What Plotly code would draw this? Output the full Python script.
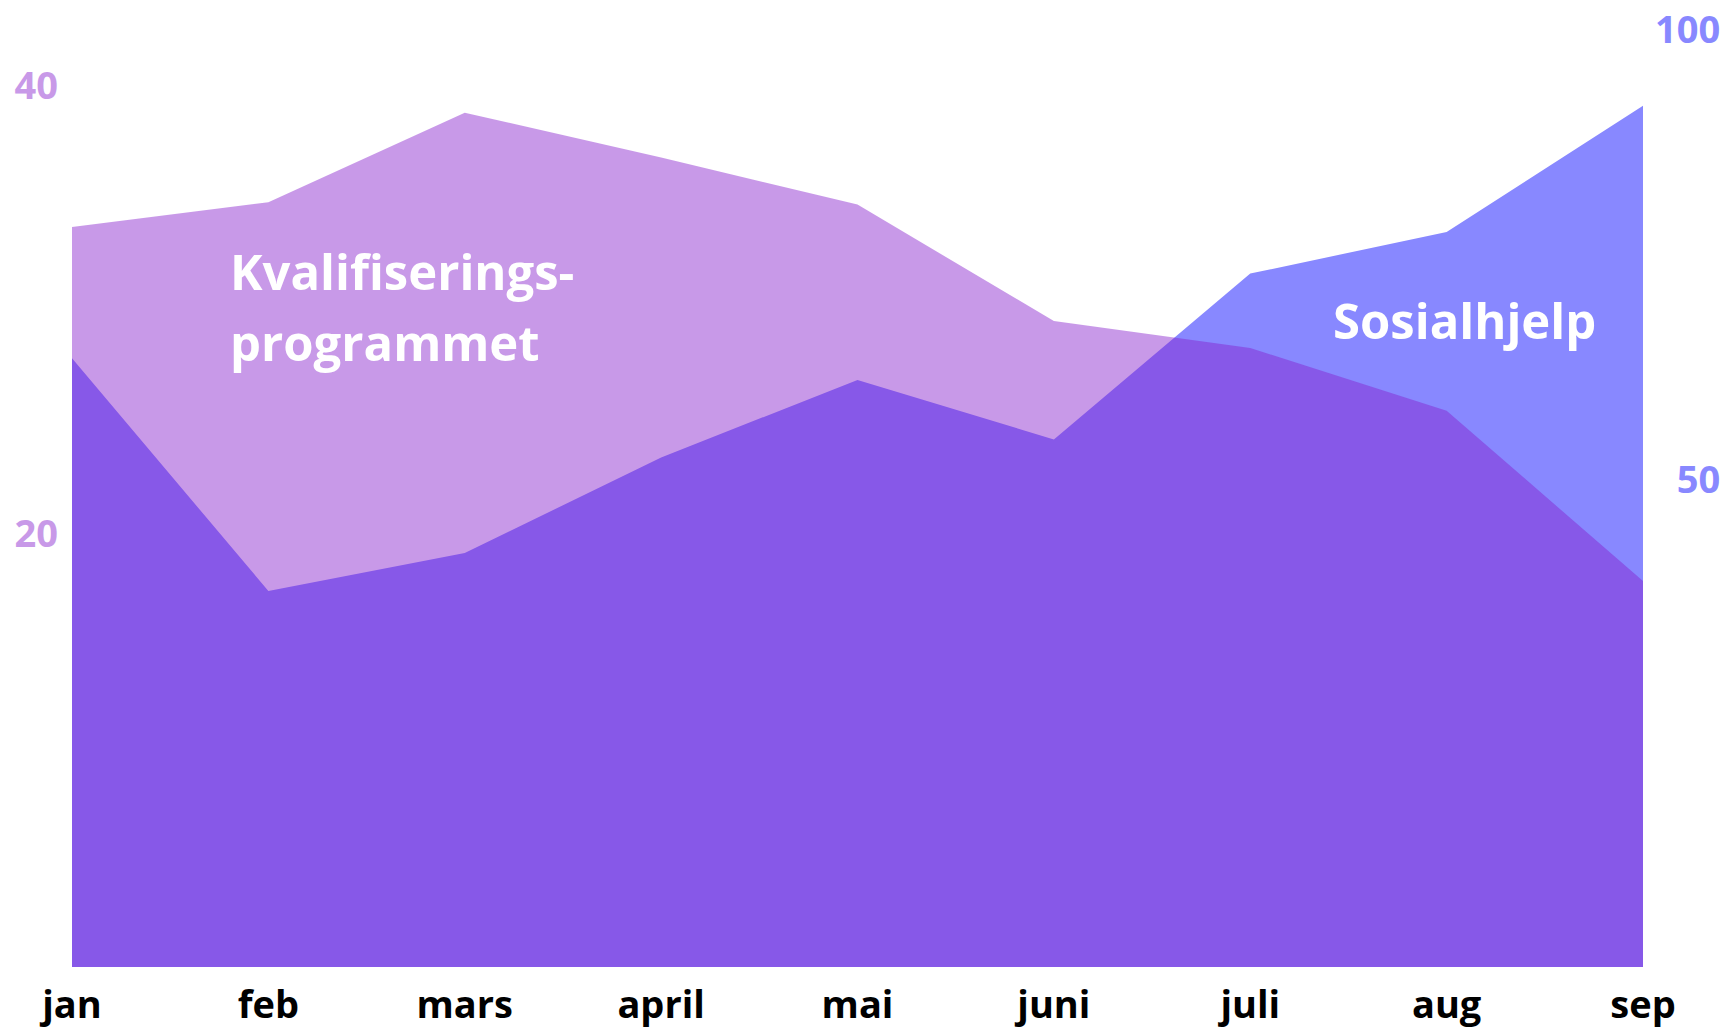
import plotly.graph_objects as go

months = ["jan", "feb", "mars", "april", "mai", "juni", "juli", "aug", "sep"]
kval = [33.7, 34.8, 38.8, 36.8, 34.7, 29.5, 28.3, 25.5, 17.9]      # left axis
sosial = [63.5, 37.7, 41.9, 52.5, 61.1, 54.5, 72.9, 77.5, 91.5]    # right axis

left_ticks = [20, 40]
right_ticks = [50, 100]
left_range = [0.68, 43.38]
right_range = [-4.01, 102.13]

LILAC = "#C899E8"
BLUE = "#8888FF"
KVAL_FILL = "rgba(134,30,204,0.454)"
FONT = "Open Sans"

fig = go.Figure()

# Sosialhjelp (bottom layer, right-hand scale on primary y)
fig.add_trace(go.Scatter(x=months, y=[right_range[0]] * len(months), mode="lines",
                         line=dict(width=0), showlegend=False, hoverinfo="skip", yaxis="y"))
fig.add_trace(go.Scatter(x=months, y=sosial, name="Sosialhjelp", mode="lines",
                         line=dict(width=0), fill="tonexty", fillcolor=BLUE,
                         showlegend=False, yaxis="y"))

# Kvalifiseringsprogrammet (top layer, left-hand scale on overlaying y2)
fig.add_trace(go.Scatter(x=months, y=[left_range[0]] * len(months), mode="lines",
                         line=dict(width=0), showlegend=False, hoverinfo="skip", yaxis="y2"))
fig.add_trace(go.Scatter(x=months, y=kval, name="Kvalifiseringsprogrammet", mode="lines",
                         line=dict(width=0), fill="tonexty", fillcolor=KVAL_FILL,
                         showlegend=False, yaxis="y2"))

fig.update_layout(
    width=1728, height=1032,
    margin=dict(l=72, r=85, t=10, b=65),
    paper_bgcolor="white", plot_bgcolor="white",
    xaxis=dict(type="category", range=[0, len(months) - 1], showgrid=False, zeroline=False,
               showline=False, ticks="", ticklabelstandoff=12, automargin=False,
               tickfont=dict(family=FONT, size=38, color="black", weight=700)),
    yaxis=dict(range=right_range, side="right", showgrid=False, zeroline=False, showline=False,
               ticks="", tickvals=right_ticks, automargin=False, ticklabeloverflow="allow",
               ticktext=["\u2007" + str(v) if v < 100 else str(v) for v in right_ticks],
               ticklabelstandoff=11,
               tickfont=dict(family=FONT, size=38, color=BLUE, weight=700)),
    yaxis2=dict(range=left_range, side="left", overlaying="y", showgrid=False, zeroline=False,
                showline=False, ticks="", tickvals=left_ticks, ticklabelstandoff=13,
                automargin=False, ticklabeloverflow="allow",
                tickfont=dict(family=FONT, size=38, color=LILAC, weight=700)),
    annotations=[
        dict(text="Kvalifiserings-", xref="paper", yref="paper",
             x=0.0993, y=0.7273, xanchor="left", yanchor="middle", align="left",
             showarrow=False, font=dict(family=FONT, size=49, color="white", weight=700)),
        dict(text="programmet", xref="paper", yref="paper",
             x=0.0993, y=0.6533, xanchor="left", yanchor="middle", align="left",
             showarrow=False, font=dict(family=FONT, size=49, color="white", weight=700)),
        dict(text="Sosialhjelp", xref="paper", yref="paper",
             x=0.9711, y=0.6758, xanchor="right", yanchor="middle", align="right",
             showarrow=False, font=dict(family=FONT, size=49, color="white", weight=700)),
    ],
)

fig.write_html("out.html", config={"displayModeBar": False},
               post_script="document.body.style.margin='0';")
